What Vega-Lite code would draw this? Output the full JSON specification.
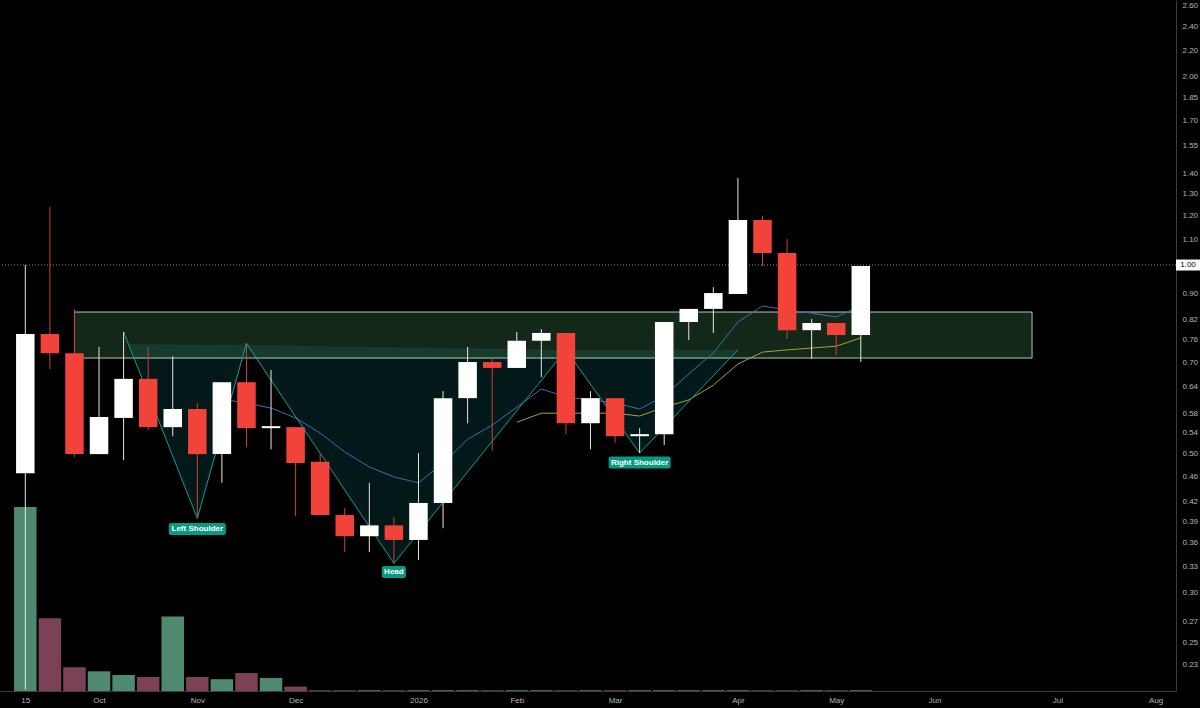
{
  "$schema": "https://vega.github.io/schema/vega-lite/v6.json",
  "width": 1176,
  "height": 691,
  "autosize": {"type": "none"},
  "padding": {"left": 0, "top": 0, "right": 24, "bottom": 17},
  "background": "#000000",
  "config": {
    "view": {"stroke": null},
    "axis": {
      "labelFont": "Liberation Sans",
      "labelFontSize": 8,
      "labelColor": "#b2b5be",
      "grid": false,
      "ticks": false,
      "domainColor": "#3a3d44",
      "domainWidth": 1
    }
  },
  "datasets": {
    "bars": [
      {"d": "2025-09-15", "o": 0.465, "h": 1.0, "l": 0.21, "c": 0.776, "v": 100, "ma1": null, "ma2": null},
      {"d": "2025-09-22", "o": 0.776, "h": 1.238, "l": 0.682, "c": 0.723, "v": 39.5, "ma1": null, "ma2": null},
      {"d": "2025-09-29", "o": 0.723, "h": 0.85, "l": 0.494, "c": 0.499, "v": 12.9, "ma1": null, "ma2": null},
      {"d": "2025-10-06", "o": 0.499, "h": 0.74, "l": 0.499, "c": 0.572, "v": 10.7, "ma1": null, "ma2": null},
      {"d": "2025-10-13", "o": 0.57, "h": 0.782, "l": 0.488, "c": 0.658, "v": 8.7, "ma1": null, "ma2": null},
      {"d": "2025-10-20", "o": 0.658, "h": 0.74, "l": 0.545, "c": 0.551, "v": 7.6, "ma1": null, "ma2": null},
      {"d": "2025-10-27", "o": 0.551, "h": 0.715, "l": 0.533, "c": 0.589, "v": 40.5, "ma1": null, "ma2": null},
      {"d": "2025-11-03", "o": 0.589, "h": 0.602, "l": 0.394, "c": 0.499, "v": 7.6, "ma1": null, "ma2": null},
      {"d": "2025-11-10", "o": 0.499, "h": 0.65, "l": 0.449, "c": 0.65, "v": 6.4, "ma1": 0.611, "ma2": null},
      {"d": "2025-11-17", "o": 0.65, "h": 0.75, "l": 0.512, "c": 0.549, "v": 9.8, "ma1": 0.602, "ma2": null},
      {"d": "2025-11-24", "o": 0.549, "h": 0.68, "l": 0.508, "c": 0.553, "v": 7.1, "ma1": 0.591, "ma2": null},
      {"d": "2025-12-01", "o": 0.551, "h": 0.551, "l": 0.397, "c": 0.483, "v": 2.4, "ma1": 0.57, "ma2": null},
      {"d": "2025-12-08", "o": 0.485, "h": 0.5, "l": 0.399, "c": 0.399, "v": 0.4, "ma1": 0.539, "ma2": null},
      {"d": "2025-12-15", "o": 0.399, "h": 0.409, "l": 0.348, "c": 0.369, "v": 0.4, "ma1": 0.503, "ma2": null},
      {"d": "2025-12-22", "o": 0.369, "h": 0.449, "l": 0.348, "c": 0.384, "v": 0.4, "ma1": 0.476, "ma2": null},
      {"d": "2025-12-29", "o": 0.384, "h": 0.396, "l": 0.334, "c": 0.364, "v": 0.4, "ma1": 0.459, "ma2": null},
      {"d": "2026-01-05", "o": 0.364, "h": 0.501, "l": 0.338, "c": 0.417, "v": 0.4, "ma1": 0.449, "ma2": null},
      {"d": "2026-01-12", "o": 0.417, "h": 0.629, "l": 0.38, "c": 0.613, "v": 0.4, "ma1": 0.483, "ma2": null},
      {"d": "2026-01-19", "o": 0.613, "h": 0.74, "l": 0.559, "c": 0.7, "v": 0.4, "ma1": 0.527, "ma2": null},
      {"d": "2026-01-26", "o": 0.7, "h": 0.708, "l": 0.505, "c": 0.685, "v": 0.4, "ma1": 0.555, "ma2": null},
      {"d": "2026-02-02", "o": 0.685, "h": 0.782, "l": 0.685, "c": 0.757, "v": 0.4, "ma1": 0.593, "ma2": 0.561},
      {"d": "2026-02-09", "o": 0.757, "h": 0.79, "l": 0.662, "c": 0.779, "v": 0.4, "ma1": 0.634, "ma2": 0.58},
      {"d": "2026-02-16", "o": 0.779, "h": 0.779, "l": 0.537, "c": 0.559, "v": 0.4, "ma1": 0.616, "ma2": 0.58},
      {"d": "2026-02-23", "o": 0.559, "h": 0.629, "l": 0.508, "c": 0.613, "v": 0.4, "ma1": 0.609, "ma2": 0.58},
      {"d": "2026-03-02", "o": 0.613, "h": 0.613, "l": 0.52, "c": 0.533, "v": 0.4, "ma1": 0.602, "ma2": 0.58},
      {"d": "2026-03-09", "o": 0.533, "h": 0.549, "l": 0.501, "c": 0.537, "v": 0.4, "ma1": 0.589, "ma2": 0.574},
      {"d": "2026-03-16", "o": 0.537, "h": 0.811, "l": 0.516, "c": 0.811, "v": 0.4, "ma1": 0.618, "ma2": 0.593},
      {"d": "2026-03-23", "o": 0.811, "h": 0.851, "l": 0.759, "c": 0.851, "v": 0.4, "ma1": 0.67, "ma2": 0.609},
      {"d": "2026-03-30", "o": 0.851, "h": 0.922, "l": 0.779, "c": 0.902, "v": 0.4, "ma1": 0.724, "ma2": 0.643},
      {"d": "2026-04-06", "o": 0.899, "h": 1.377, "l": 0.899, "c": 1.18, "v": 0.4, "ma1": 0.811, "ma2": 0.695},
      {"d": "2026-04-13", "o": 1.18, "h": 1.197, "l": 0.996, "c": 1.045, "v": 0.4, "ma1": 0.86, "ma2": 0.726},
      {"d": "2026-04-20", "o": 1.045, "h": 1.1, "l": 0.762, "c": 0.787, "v": 0.4, "ma1": 0.848, "ma2": 0.732},
      {"d": "2026-04-27", "o": 0.787, "h": 0.82, "l": 0.708, "c": 0.808, "v": 0.4, "ma1": 0.838, "ma2": 0.737},
      {"d": "2026-05-04", "o": 0.808, "h": 0.808, "l": 0.718, "c": 0.773, "v": 0.4, "ma1": 0.826, "ma2": 0.742},
      {"d": "2026-05-11", "o": 0.773, "h": 0.996, "l": 0.7, "c": 0.996, "v": 0.4, "ma1": 0.86, "ma2": 0.765}
    ],
    "hs_line": [
      {"d": "2025-10-13", "p": 0.782},
      {"d": "2025-11-03", "p": 0.394},
      {"d": "2025-11-17", "p": 0.75},
      {"d": "2025-12-29", "p": 0.334},
      {"d": "2026-02-16", "p": 0.732},
      {"d": "2026-03-09", "p": 0.501},
      {"d": "2026-04-06", "p": 0.732}
    ],
    "hs_fill": [
      {"d": "2025-10-14T06:00:00Z", "lo": 0.748, "hi": 0.748},
      {"d": "2025-11-03", "lo": 0.394, "hi": 0.746},
      {"d": "2025-11-17", "lo": 0.745, "hi": 0.745},
      {"d": "2025-12-29", "lo": 0.334, "hi": 0.739},
      {"d": "2026-02-16", "lo": 0.732, "hi": 0.732},
      {"d": "2026-03-09", "lo": 0.501, "hi": 0.732},
      {"d": "2026-04-06", "lo": 0.732, "hi": 0.732}
    ],
    "zone": [
      {"d": "2025-09-29", "d2": "2026-06-28T19:00:00Z", "lo": 0.7104, "hi": 0.8413}
    ],
    "labels": [
      {"t": "Left Shoulder", "d": "2025-11-03", "p": 0.379},
      {"t": "Head", "d": "2025-12-29", "p": 0.3235},
      {"t": "Right Shoulder", "d": "2026-03-09", "p": 0.4838}
    ],
    "last": [
      {"d": "2026-08-12T05:00:00Z", "p": 1.0}
    ]
  },
  "data": {"name": "bars"},
  "resolve": {"scale": {"y": "independent"}},
  "layer": [
    {
      "mark": {"type": "bar", "width": 22.5},
      "encoding": {
        "x": {
          "field": "d",
          "type": "temporal",
          "title": null,
          "scale": {
            "type": "utc",
            "domain": [1757271600000, 1786215600000],
            "padding": 0
          },
          "axis": {
            "orient": "bottom",
            "values": [1757894400000, 1759708800000, 1762128000000, 1764547200000, 1767571200000, 1769990400000, 1772409600000, 1775433600000, 1777852800000, 1780272000000, 1783296000000, 1785715200000],
            "labelExpr": "utcFormat(datum.value, '%m') == '09' ? '15' : utcFormat(datum.value, '%m') == '01' ? '2026' : utcFormat(datum.value, '%b')",
            "labelPadding": 5,
            "labelFlush": false,
            "labelOverlap": false
          }
        },
        "y": {
          "field": "v",
          "type": "quantitative",
          "scale": {"domain": [0, 375.5]},
          "axis": null
        },
        "color": {
          "condition": {"test": "datum.c >= datum.o", "value": "#4f8a70"},
          "value": "#7b4257"
        }
      }
    },
    {
      "data": {"name": "hs_fill"},
      "mark": {"type": "area", "fill": "#12a3a0", "opacity": 0.15},
      "encoding": {
        "x": {"field": "d", "type": "temporal", "title": null},
        "y": {"field": "lo", "type": "quantitative", "axis": null, "scale": {"type": "log", "domain": [0.2089, 2.649]}},
        "y2": {"field": "hi"}
      }
    },
    {
      "data": {"name": "zone"},
      "mark": {"type": "rect", "fill": "#4fa066", "fillOpacity": 0.25, "stroke": "#c9dccb", "strokeOpacity": 0.9, "strokeWidth": 1},
      "encoding": {
        "x": {"field": "d", "type": "temporal", "title": null},
        "x2": {"field": "d2"},
        "y": {"field": "lo", "type": "quantitative", "axis": null, "scale": {"type": "log", "domain": [0.2089, 2.649]}},
        "y2": {"field": "hi"}
      }
    },
    {
      "data": {"values": [{"p": 1.0}]},
      "mark": {"type": "rule", "stroke": "#8a8d96", "strokeDash": [1, 2], "strokeWidth": 1},
      "encoding": {
        "y": {"field": "p", "type": "quantitative", "axis": null, "scale": {"type": "log", "domain": [0.2089, 2.649]}}
      }
    },
    {
      "mark": {"type": "line", "stroke": "#3572b0", "strokeWidth": 1},
      "encoding": {
        "x": {"field": "d", "type": "temporal", "title": null},
        "y": {"field": "ma1", "type": "quantitative", "axis": null, "scale": {"type": "log", "domain": [0.2089, 2.649]}}
      }
    },
    {
      "mark": {"type": "line", "stroke": "#a3a23d", "strokeWidth": 1},
      "encoding": {
        "x": {"field": "d", "type": "temporal", "title": null},
        "y": {"field": "ma2", "type": "quantitative", "axis": null, "scale": {"type": "log", "domain": [0.2089, 2.649]}}
      }
    },
    {
      "data": {"name": "hs_line"},
      "mark": {"type": "line", "stroke": "#179c8e", "strokeWidth": 1},
      "encoding": {
        "x": {"field": "d", "type": "temporal", "title": null},
        "y": {"field": "p", "type": "quantitative", "axis": null, "scale": {"type": "log", "domain": [0.2089, 2.649]}}
      }
    },
    {
      "mark": {"type": "rule", "strokeWidth": 1},
      "encoding": {
        "x": {"field": "d", "type": "temporal", "title": null},
        "y": {"field": "l", "type": "quantitative", "axis": null, "scale": {"type": "log", "domain": [0.2089, 2.649]}},
        "y2": {"field": "h"},
        "color": {
          "condition": {"test": "datum.c >= datum.o", "value": "#e6e6e6"},
          "value": "#c8463c"
        }
      }
    },
    {
      "mark": {"type": "bar", "width": 18.5},
      "encoding": {
        "x": {"field": "d", "type": "temporal", "title": null},
        "y": {
          "field": "o",
          "type": "quantitative",
          "title": null,
          "scale": {"type": "log", "domain": [0.2089, 2.649]},
          "axis": {
            "orient": "right",
            "values": [0.23, 0.25, 0.27, 0.3, 0.33, 0.36, 0.39, 0.42, 0.46, 0.5, 0.54, 0.58, 0.64, 0.7, 0.76, 0.82, 0.9, 1.0, 1.1, 1.2, 1.3, 1.4, 1.55, 1.7, 1.85, 2.0, 2.2, 2.4, 2.6],
            "format": ".2f",
            "labelExpr": "datum.value == 1 ? '' : datum.label",
            "labelAlign": "left",
            "labelBaseline": "middle",
            "labelPadding": 6,
            "labelFlush": false,
            "labelOverlap": false
          }
        },
        "y2": {"field": "c"},
        "color": {
          "condition": {"test": "datum.c >= datum.o", "value": "#ffffff"},
          "value": "#f2433a"
        }
      }
    },
    {
      "data": {"name": "labels"},
      "transform": [{"filter": "datum.t == 'Left Shoulder'"}],
      "mark": {"type": "rect", "width": 57, "height": 12, "fill": "#089981", "cornerRadius": 2},
      "encoding": {
        "x": {"field": "d", "type": "temporal", "title": null},
        "y": {"field": "p", "type": "quantitative", "axis": null, "scale": {"type": "log", "domain": [0.2089, 2.649]}}
      }
    },
    {
      "data": {"name": "labels"},
      "transform": [{"filter": "datum.t == 'Head'"}],
      "mark": {"type": "rect", "width": 24, "height": 12, "fill": "#089981", "cornerRadius": 2},
      "encoding": {
        "x": {"field": "d", "type": "temporal", "title": null},
        "y": {"field": "p", "type": "quantitative", "axis": null, "scale": {"type": "log", "domain": [0.2089, 2.649]}}
      }
    },
    {
      "data": {"name": "labels"},
      "transform": [{"filter": "datum.t == 'Right Shoulder'"}],
      "mark": {"type": "rect", "width": 62, "height": 12, "fill": "#089981", "cornerRadius": 2},
      "encoding": {
        "x": {"field": "d", "type": "temporal", "title": null},
        "y": {"field": "p", "type": "quantitative", "axis": null, "scale": {"type": "log", "domain": [0.2089, 2.649]}}
      }
    },
    {
      "data": {"name": "labels"},
      "mark": {"type": "text", "font": "Liberation Sans", "fontWeight": "bold", "fontSize": 8, "color": "#ffffff", "align": "center", "baseline": "middle"},
      "encoding": {
        "x": {"field": "d", "type": "temporal", "title": null},
        "y": {"field": "p", "type": "quantitative", "axis": null, "scale": {"type": "log", "domain": [0.2089, 2.649]}},
        "text": {"field": "t"}
      }
    },
    {
      "data": {"name": "last"},
      "mark": {"type": "rect", "width": 24, "height": 11, "fill": "#ffffff"},
      "encoding": {
        "x": {"field": "d", "type": "temporal", "title": null},
        "y": {"field": "p", "type": "quantitative", "axis": null, "scale": {"type": "log", "domain": [0.2089, 2.649]}}
      }
    },
    {
      "data": {"name": "last"},
      "mark": {"type": "text", "font": "Liberation Sans", "fontSize": 8, "color": "#000000", "align": "center", "baseline": "middle"},
      "encoding": {
        "x": {"field": "d", "type": "temporal", "title": null},
        "y": {"field": "p", "type": "quantitative", "axis": null, "scale": {"type": "log", "domain": [0.2089, 2.649]}},
        "text": {"field": "p", "type": "quantitative", "format": ".2f"}
      }
    }
  ]
}
